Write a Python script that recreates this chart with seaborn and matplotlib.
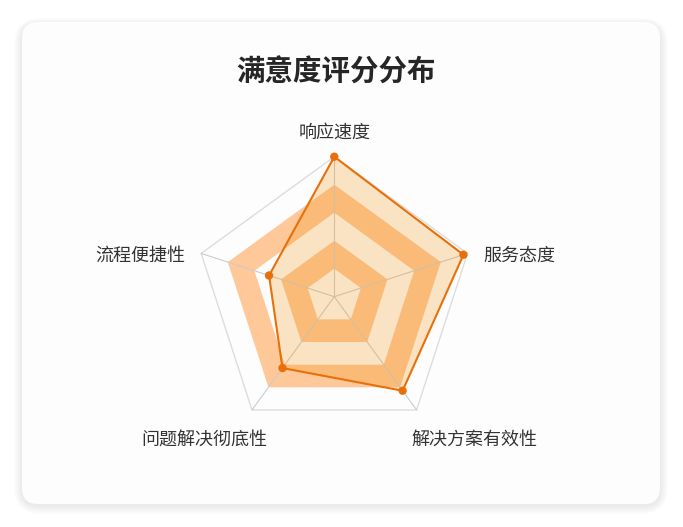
import numpy as np
import matplotlib
matplotlib.use('Agg')
import matplotlib.pyplot as plt
from matplotlib.patches import FancyBboxPatch
import pandas as pd
import seaborn as sns

# chart data
title = '满意度评分分布'
indicators = ['响应速度', '服务态度', '解决方案有效性', '问题解决彻底性', '流程便捷性']
scores = [100, 97, 83, 63, 49]
max_score = 100
split_number = 5

sns.set_theme(style='white')
plt.rcParams['font.family'] = ['Noto Sans CJK SC', 'DejaVu Sans']

W, H = 683, 527
fig = plt.figure(figsize=(W / 100, H / 100), dpi=100)
fig.patch.set_facecolor('white')

# background axes in pixel units for the card + title
bg = fig.add_axes([0, 0, 1, 1])
bg.set_xlim(0, W)
bg.set_ylim(H, 0)
bg.axis('off')

card_x, card_y, card_w, card_h, rad = 22, 22, 638, 482, 16
for i in range(10, 0, -1):
    bg.add_patch(FancyBboxPatch((card_x - i * 0.8, card_y - i * 0.6 + 2), card_w + i * 1.6, card_h + i * 1.4,
                                boxstyle=f'round,pad=0,rounding_size={rad + i}',
                                facecolor='#000000', edgecolor='none', alpha=0.006))
card_color = '#fdfdfd'
bg.add_patch(FancyBboxPatch((card_x, card_y), card_w, card_h,
                            boxstyle=f'round,pad=0,rounding_size={rad}',
                            facecolor=card_color, edgecolor='none'))
bg.text(336, 73, title, ha='center', va='center', fontsize=20.5, fontweight='bold', color='#262626')

# radar axes, 1 unit = R pixels
cx, cy, R = 334.3, 296.7, 140
ax = fig.add_axes([0, 0, 1, 1])
ax.patch.set_alpha(0)

n = len(indicators)
angles = np.pi / 2 - 2 * np.pi * np.arange(n) / n
ux, uy = np.cos(angles), np.sin(angles)

# split areas: rings 2 and 4 orange, others plain
orange_band = '#FFC899'
for level in range(split_number - 1, 0, -1):
    r = level / split_number
    fc = orange_band if level % 2 == 0 else card_color
    ax.fill(ux * r, uy * r, facecolor=fc, edgecolor='none', zorder=1)

# outer split line and axis lines
ax.fill(ux, uy, facecolor='none', edgecolor='#dddddd', lw=1, zorder=2)
for x, y in zip(ux, uy):
    ax.plot([0, x], [0, y], color='#cccccc', lw=0.8, zorder=2)

# series
df = pd.DataFrame({'indicator': indicators, 'score': scores})
df['r'] = df['score'] / max_score
df['x'] = df['r'] * ux
df['y'] = df['r'] * uy
loop = pd.concat([df, df.iloc[:1]], ignore_index=True)

line_color = '#E8700A'
ax.fill(df['x'], df['y'], facecolor='#EF9717', alpha=0.25, edgecolor='none', zorder=3)
sns.lineplot(data=loop, x='x', y='y', sort=False, estimator=None, color=line_color, lw=1.5, ax=ax, zorder=4)
sns.scatterplot(data=df, x='x', y='y', color=line_color, s=36, edgecolor='none', ax=ax, zorder=5)
ax.set_xlim(-cx / R, (W - cx) / R)
ax.set_ylim(-(H - cy) / R, cy / R)
ax.axis('off')

# indicator names
label_offsets = [(0, 24), (15.5, -2.6), (-5.6, -30), (15, -30), (-16, -2.6)]
label_ha = ['center', 'left', 'left', 'right', 'right']
for name, x, y, off, ha in zip(indicators, ux, uy, label_offsets, label_ha):
    ax.annotate(name, xy=(x, y), xytext=off, textcoords='offset pixels',
                ha=ha, va='center', fontsize=13, color='#333333')

fig.savefig('out.png', dpi=100, facecolor='white')
